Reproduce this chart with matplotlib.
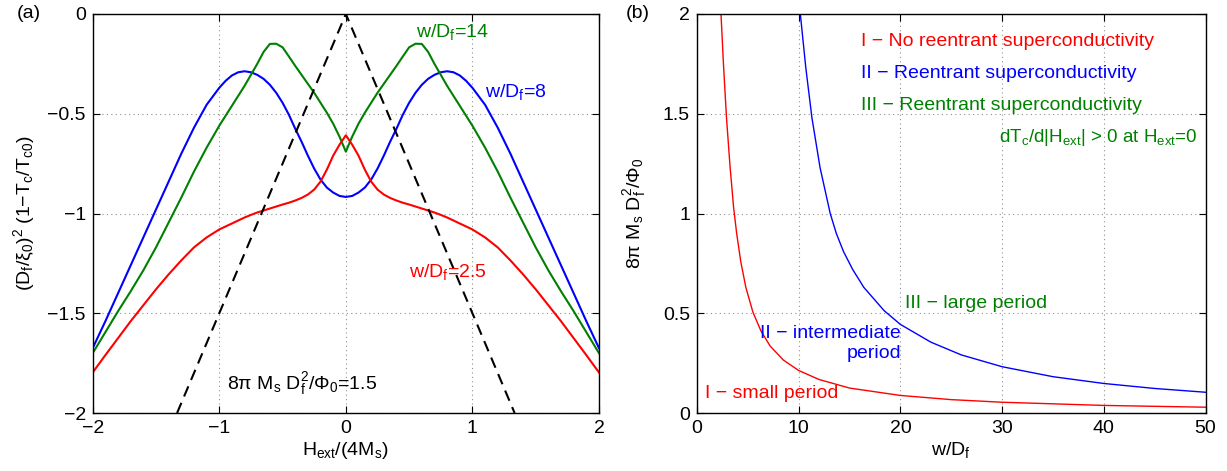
import matplotlib
matplotlib.use('Agg')
import matplotlib.pyplot as plt
import numpy as np

plt.rcParams['font.family'] = ['Liberation Sans', 'DejaVu Sans']
plt.rcParams['mathtext.fontset'] = 'custom'
plt.rcParams['mathtext.rm'] = 'Liberation Sans'
plt.rcParams['mathtext.it'] = 'Liberation Sans:italic'
plt.rcParams['mathtext.bf'] = 'Liberation Sans:bold'

# ---- panel (a): reduced Tc shift vs field (curves are symmetric in H) ----
h_half = [0.0, 0.05, 0.1, 0.15, 0.2, 0.25, 0.3, 0.35, 0.4, 0.45, 0.5, 0.55, 0.6, 0.65,
          0.7, 0.75, 0.8, 0.85, 0.9, 0.95, 1.0, 1.1, 1.2, 1.3, 1.4, 1.5, 1.6, 1.7,
          1.8, 1.9, 2.0]
red_half = [-0.608, -0.655, -0.71, -0.78, -0.84, -0.88, -0.905, -0.922, -0.935, -0.946,
            -0.955, -0.965, -0.975, -0.985, -0.995, -1.007, -1.02, -1.035, -1.05, -1.065,
            -1.08, -1.12, -1.17, -1.235, -1.305, -1.38, -1.46, -1.54, -1.625, -1.71, -1.797]
blue_half = [-0.917, -0.912, -0.895, -0.87, -0.83, -0.775, -0.71, -0.64, -0.575, -0.505,
             -0.445, -0.395, -0.355, -0.325, -0.305, -0.292, -0.287, -0.292, -0.308, -0.335,
             -0.37, -0.455, -0.57, -0.70, -0.84, -0.98, -1.12, -1.26, -1.40, -1.54, -1.675]
green_half = [-0.69, -0.615, -0.55, -0.495, -0.445, -0.395, -0.35, -0.305, -0.26, -0.213,
              -0.167, -0.149, -0.15, -0.19, -0.25, -0.305, -0.36, -0.41, -0.46, -0.51,
              -0.56, -0.67, -0.79, -0.92, -1.045, -1.17, -1.285, -1.39, -1.49, -1.595, -1.70]
dash_h = [-4 / 3, 0.0, 4 / 3]
dash_y = [-2.0, 0.0, -2.0]

# ---- panel (b): phase boundaries ----
wI = [2.36, 2.6, 2.9, 3.25, 3.6, 3.9, 4.3, 4.8, 5.5, 6.3, 7.2, 8.5, 10, 12, 15, 20,
      25, 30, 40, 50]
mI = [2.0, 1.75, 1.48, 1.235, 1.03, 0.90, 0.76, 0.63, 0.505, 0.41, 0.335, 0.265, 0.213,
      0.168, 0.125, 0.088, 0.067, 0.054, 0.038, 0.029]
wII = [10.16, 10.7, 11.3, 12.1, 13.1, 13.7, 14.4, 15.3, 16.4, 18.4, 20, 23, 26, 30,
       35, 40, 45, 50]
mII = [2.0, 1.73, 1.48, 1.23, 1.0, 0.9, 0.81, 0.72, 0.63, 0.513, 0.444, 0.355, 0.291,
       0.232, 0.182, 0.148, 0.123, 0.104]

h = np.concatenate([-np.array(h_half[::-1]), np.array(h_half[1:])])
def mirror(v):
    return np.concatenate([np.array(v[::-1]), np.array(v[1:])])

RED = '#ff0000'
BLUE = '#0000ff'
GREEN = '#008000'
FS = 14
FS_T = 14

fig = plt.figure(figsize=(12.27, 4.71), dpi=100)
ax1 = fig.add_axes([92.7 / 1227, 1 - 413 / 471, (599 - 92.7) / 1227, (413 - 14) / 471])
ax2 = fig.add_axes([697 / 1227, 1 - 413 / 471, (1205.5 - 697) / 1227, (413 - 14) / 471])

for ax in (ax1, ax2):
    ax.tick_params(direction='in', top=True, right=True, labelsize=FS, length=5, width=0.8, pad=5)
    ax.grid(True, linestyle=(0, (1, 3)), color='#909090', linewidth=0.8)
    for s in ax.spines.values():
        s.set_linewidth(1.0)

# panel (a)
ax1.plot(h, mirror(blue_half), color=BLUE, lw=1.5)
ax1.plot(h, mirror(green_half), color=GREEN, lw=1.5)
ax1.plot(h, mirror(red_half), color=RED, lw=1.5)
ax1.plot(dash_h, dash_y, color='black', lw=1.5, linestyle=(0, (5.3, 3.3)))
ax1.set_xlim(-2, 2)
ax1.set_ylim(-2, 0)
ax1.set_xticks([-2, -1, 0, 1, 2])
ax1.set_yticks([-2, -1.5, -1, -0.5, 0])
ax1.set_yticklabels(['−2', '−1.5', '−1', '−0.5', '0'])
ax1.set_xlabel(r'H$_\mathrm{ext}$/(4M$_\mathrm{s}$)', fontsize=FS, labelpad=2)
ax1.set_ylabel(r'(D$_\mathrm{f}$/ξ$_\mathrm{0}$)$^\mathrm{2}$ (1−T$_\mathrm{c}$/T$_\mathrm{c0}$)', fontsize=FS)
ax1.yaxis.set_label_coords(-0.11, 0.5)
ax1.text(0.555, -0.117, r'w/D$_\mathrm{f}$=14', color=GREEN, fontsize=FS_T, va='baseline')
ax1.text(1.10, -0.418, r'w/D$_\mathrm{f}$=8', color=BLUE, fontsize=FS_T, va='baseline')
ax1.text(0.50, -1.317, r'w/D$_\mathrm{f}$=2.5', color=RED, fontsize=FS_T, va='baseline')
ax1.text(-0.94, -1.88, r'8π M$_\mathrm{s}$ D$_\mathrm{f}^\mathrm{2}$/Φ$_\mathrm{0}$=1.5',
         color='black', fontsize=FS_T, va='baseline')

# panel (b)
ax2.plot(wI, mI, color=RED, lw=1.0)
ax2.plot(wII, mII, color=BLUE, lw=1.0)
ax2.set_xlim(0, 50)
ax2.set_ylim(0, 2)
ax2.set_xticks([0, 10, 20, 30, 40, 50])
ax2.set_yticks([0, 0.5, 1, 1.5, 2])
ax2.set_yticklabels(['0', '0.5', '1', '1.5', '2'])
ax2.set_xlabel(r'w/D$_\mathrm{f}$', fontsize=FS, labelpad=2)
ax2.set_ylabel(r'8π M$_\mathrm{s}$ D$_\mathrm{f}^\mathrm{2}$/Φ$_\mathrm{0}$', fontsize=FS)
ax2.yaxis.set_label_coords(-0.097, 0.5)
ax2.text(16.1, 1.86, 'I − No reentrant superconductivity', color=RED, fontsize=FS_T, va='center')
ax2.text(16.1, 1.70, 'II − Reentrant superconductivity', color=BLUE, fontsize=FS_T, va='center')
ax2.text(16.1, 1.54, 'III − Reentrant superconductivity', color=GREEN, fontsize=FS_T, va='center')
ax2.text(49.2, 1.38, r'dT$_\mathrm{c}$/d|H$_\mathrm{ext}$| > 0 at H$_\mathrm{ext}$=0',
         color=GREEN, fontsize=13.5, va='center', ha='right')
ax2.text(20.5, 0.55, 'III − large period', color=GREEN, fontsize=FS_T, va='center')
ax2.text(20.07, 0.40, 'II − intermediate', color=BLUE, fontsize=FS_T, va='center', ha='right')
ax2.text(20.07, 0.30, 'period', color=BLUE, fontsize=FS_T, va='center', ha='right')
ax2.text(0.82, 0.097, 'I − small period', color=RED, fontsize=FS_T, va='center')

fig.text(17 / 1227, 1 - 14 / 471, '(a)', fontsize=FS, va='center', ha='left')
fig.text(626 / 1227, 1 - 14 / 471, '(b)', fontsize=FS, va='center', ha='left')

fig.savefig('out.png', dpi=100, facecolor='white')
